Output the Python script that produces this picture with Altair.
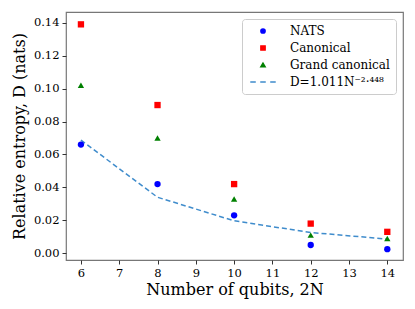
import altair as alt
import pandas as pd

qubits = [6, 8, 10, 12, 14]
nats = [0.066, 0.042, 0.023, 0.005, 0.0025]
canonical = [0.139, 0.090, 0.042, 0.018, 0.013]
grand = [0.102, 0.070, 0.033, 0.011, 0.009]
fit = [0.0687, 0.0340, 0.0197, 0.0126, 0.0086]

series = ["NATS", "Canonical", "Grand canonical", "D=1.011N⁻²·⁴⁴⁸"]
colors = ["#0000ff", "#ff0000", "#008000", "#3f8ccc"]
dash_path = "M-6,0H-3.4M-1.3,0H1.3M3.4,0H6"
shapes = ["circle", "square", "triangle-up", dash_path]

rows = []
for name, vals in zip(series[:3], [nats, canonical, grand]):
    for q, v in zip(qubits, vals):
        rows.append({"q": q, "D": v, "series": name})
pts = pd.DataFrame(rows)
line = pd.DataFrame({"q": qubits, "D": fit, "series": series[3]})

FONT = "DejaVu Serif"

xsc = alt.Scale(domain=[5.61, 14.41], nice=False, zero=False)
ysc = alt.Scale(domain=[-0.0041, 0.1465], nice=False, zero=False)
color_sc = alt.Scale(domain=series, range=colors)
shape_sc = alt.Scale(domain=series, range=shapes)

xax = alt.Axis(values=list(range(6, 15)), format="d", title="Number of qubits, 2N",
               grid=False, labelFontSize=11.5, titleFontSize=16, tickSize=4,
               labelPadding=3, titlePadding=3, domain=False, labelFlush=False,
               labelOverlap=False)
yax = alt.Axis(values=[0, 0.02, 0.04, 0.06, 0.08, 0.10, 0.12, 0.14], format=".2f",
               title="Relative entropy, D (nats)", grid=False, labelFontSize=11.5,
               titleFontSize=16, tickSize=4, labelPadding=3, titlePadding=6,
               domain=False, labelFlush=False, labelOverlap=False)

legend = alt.Legend(title=None, orient="top-right", labelFont=FONT, labelFontSize=12,
                    symbolSize=18, labelOffset=21, symbolOffset=9, padding=6)

X = alt.X("q:Q", scale=xsc, axis=xax)
Y = alt.Y("D:Q", scale=ysc, axis=yax)

fitline = alt.Chart(line).mark_line(strokeDash=[5, 3], strokeWidth=1.5).encode(
    x=X, y=Y,
    color=alt.Color("series:N", scale=color_sc, legend=legend),
)

points = alt.Chart(pts).mark_point(filled=True, size=40, opacity=1).encode(
    x=X, y=Y,
    color=alt.Color("series:N", scale=color_sc, legend=legend),
    shape=alt.Shape("series:N", scale=shape_sc, legend=legend),
)

chart = alt.layer(fitline, points).properties(
    width=337, height=248,
    autosize=alt.AutoSizeParams(type="none"),
    padding={"left": 58, "top": 4, "right": 4, "bottom": 40},
).configure(
    font=FONT, style={"guide-label": {"font": FONT}}
).configure_view(stroke="#777777", strokeWidth=1.2).configure_axis(
    labelFont=FONT, titleFont=FONT, labelColor="black", titleColor="black",
    tickColor="#333333", titleFontWeight="normal"
).configure_legend(
    offset=7, fillColor="white", strokeColor="#cccccc", cornerRadius=3,
    padding=6, labelFont=FONT, labelFontSize=12, labelColor="black",
    symbolSize=18, symbolStrokeWidth=1.5, labelOffset=21, rowPadding=5,
    symbolOffset=9
)

chart.save("out.html", embed_options={"renderer": "svg", "actions": False})
